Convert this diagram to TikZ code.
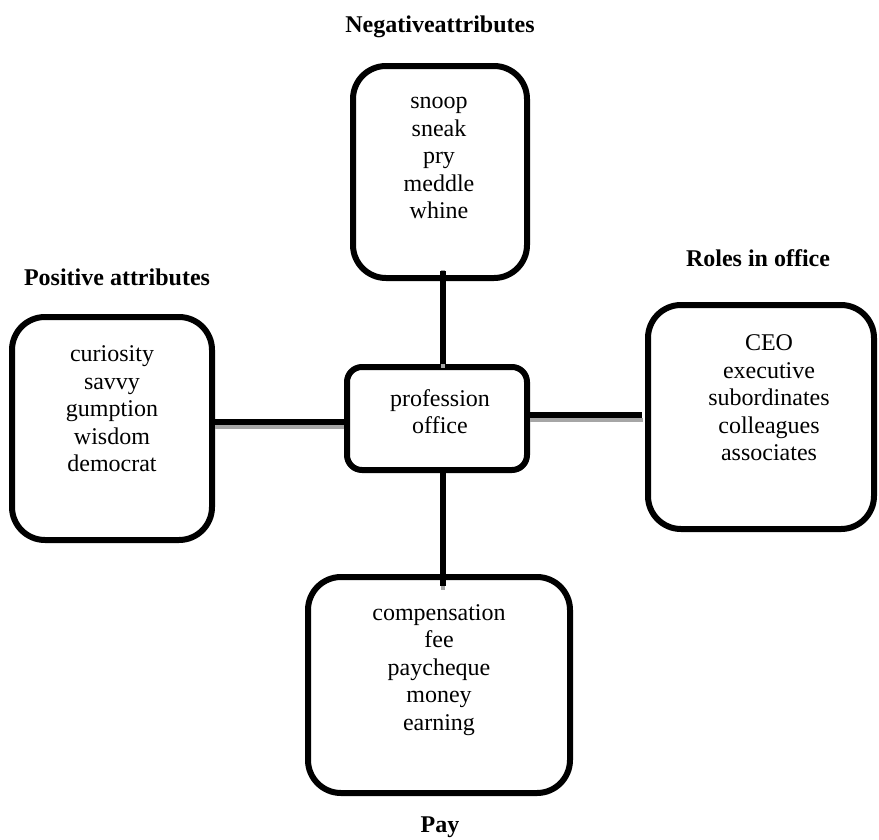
\documentclass[tikz,border=0pt]{standalone}
\usepackage{fontspec}
\setmainfont{Liberation Serif}
\usetikzlibrary{calc}
\begin{document}
\begin{tikzpicture}[x=1pt,y=-1pt,
  bigbox/.style={draw=black,line width=6pt,rounded corners=33pt,inner sep=0pt},
  midbox/.style={draw=black,line width=6pt,rounded corners=15pt,inner sep=0pt},
  words/.style={align=center,inner sep=0pt,font=\fontsize{24}{27.5}\selectfont},
  heading/.style={inner sep=0pt,font=\fontsize{24}{27.5}\selectfont\bfseries},
  conn/.style={line width=5.5pt,black},
  connshadow/.style={line width=4pt,black!35}]
\useasboundingbox (0,0) rectangle (879,839);
% boxes
\node[bigbox,minimum width=174pt,minimum height=212pt] (top) at (440,172) {};
\node[bigbox,minimum width=200pt,minimum height=223pt] (left) at (112,428.5) {};
\node[bigbox,minimum width=226pt,minimum height=224pt] (right) at (761,417) {};
\node[midbox,minimum width=180pt,minimum height=103pt] (ctr) at (437,418.5) {};
\node[bigbox,minimum width=262pt,minimum height=216pt] (bot) at (439,685) {};
% texts
\node[words] (toptxt) at (439,158) {snoop\\sneak\\pry\\meddle\\whine};
\node[words] (lefttxt) at (112,409) {curiosity\\savvy\\gumption\\wisdom\\democrat};
\node[words] (righttxt) at (769,398) {CEO\\executive\\subordinates\\colleagues\\associates};
\node[words] (bottxt) at (439,670) {compensation\\fee\\paycheque\\money\\earning};
\node[words] (ctrtxt) at (440,411.5) {profession\\office};
% headings
\node[heading] (hneg) at (440,27) {Negativeattributes};
\node[heading] (hpos) at (117,277) {Positive attributes};
\node[heading] (hrole) at (758,258) {Roles in office};
\node[heading] (hpay) at (440,827) {Pay};
% connector end points
\coordinate (tA) at ($(top.south)+(3,-10)$);
\coordinate (tB) at (tA |- ctr.north);
\coordinate (bA) at ($(ctr.south)+(6,0)$);
\coordinate (bB) at ($(bA |- bot.north)+(0,12)$);
\coordinate (lA) at (left.east |- 0,422);
\coordinate (lB) at (ctr.west |- 0,422);
\coordinate (rA) at (ctr.east |- 0,415);
\coordinate (rB) at ($(right.west |- 0,415)+(-3,0)$);
% connector shadows
\draw[connshadow] ($(tA)+(0,-1)$) -- ($(tB)+(0,4)$);
\draw[connshadow] ($(bA)+(0,4)$) -- ($(bB)+(0,4)$);
\draw[connshadow] ($(lA)+(0,4.5)$) -- ($(lB)+(0,4.5)$);
\draw[connshadow] ($(rA)+(0,4.5)$) -- ($(rB)+(1,4.5)$);
% connectors
\draw[conn] (tA) -- (tB);
\draw[conn] (bA) -- (bB);
\draw[conn] (lA) -- (lB);
\draw[conn] (rA) -- (rB);
\end{tikzpicture}
\end{document}
